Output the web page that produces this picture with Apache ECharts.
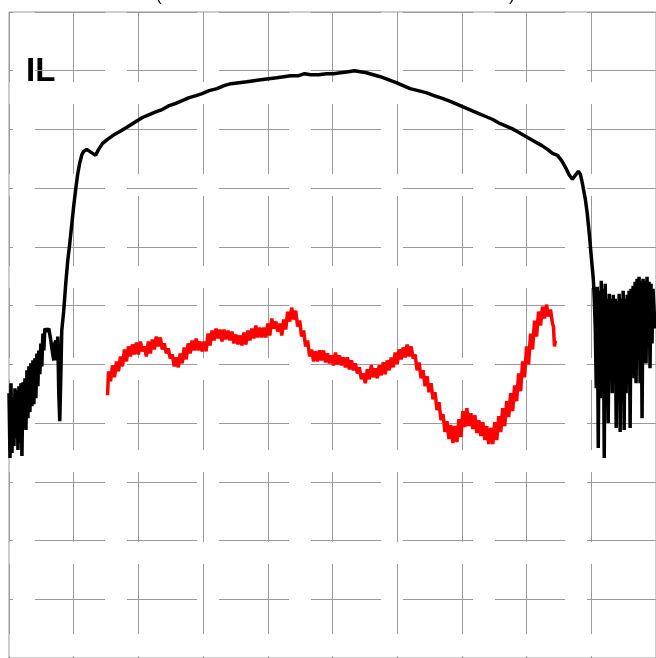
<!DOCTYPE html>
<html>
<head>
<meta charset="utf-8">
<script src="https://cdn.jsdelivr.net/npm/echarts@6/dist/echarts.min.js"></script>
<style>
html,body{margin:0;padding:0;background:#fff;}
#chart{width:656px;height:658px;}
</style>
</head>
<body>
<div id="chart"></div>
<script>
// x: frequency-like units (0 .. 6.5, 10 divisions), y: level in dB (0 at top, 5.9 dB / div)
const xTicks = { min: 0, max: 6.5, interval: 0.65 };
const yTicks = { min: -64.9, max: 0, interval: 5.9 };
const seriesNames = ['IL', 'Ref'];

// IL trace (black)
const ilTrace = [
[0.00,-38.3],[0.01,-44.8],[0.02,-37.3],[0.03,-44.3],[0.04,-38.8],[0.05,-43.6],[0.06,-37.8],[0.07,-42.8],
[0.08,-38.0],[0.09,-44.0],[0.10,-37.6],[0.11,-43.3],[0.12,-37.3],[0.13,-44.6],[0.14,-37.2],[0.15,-41.8],
[0.16,-36.8],[0.17,-42.0],[0.18,-36.0],[0.19,-40.8],[0.20,-35.6],[0.21,-40.2],[0.22,-35.3],[0.23,-39.6],
[0.24,-35.0],[0.25,-39.4],[0.26,-34.8],[0.27,-38.8],[0.28,-34.3],[0.29,-37.6],[0.30,-34.0],[0.31,-36.4],
[0.32,-33.3],[0.33,-35.6],[0.34,-32.3],[0.35,-34.0],[0.36,-31.8],[0.38,-32.1],[0.40,-31.8],[0.42,-33.0],
[0.44,-34.4],[0.45,-35.0],[0.46,-33.3],[0.47,-33.0],[0.48,-35.0],[0.49,-32.6],[0.50,-38.3],[0.51,-41.1],
[0.52,-36.8],[0.53,-32.0],[0.55,-30.0],[0.57,-27.3],[0.59,-25.0],[0.61,-23.3],[0.63,-21.4],[0.65,-19.5],
[0.67,-17.8],[0.69,-16.3],[0.71,-15.2],[0.73,-14.4],[0.75,-14.0],[0.78,-13.8],[0.81,-14.0],[0.84,-14.2],
[0.87,-14.4],[0.90,-13.8],[0.94,-13.2],[0.99,-12.8],[1.06,-12.3],[1.13,-11.9],[1.18,-11.6],[1.26,-11.1],
[1.34,-10.6],[1.41,-10.3],[1.48,-10.0],[1.54,-9.8],[1.61,-9.4],[1.67,-9.2],[1.74,-8.9],[1.81,-8.6],
[1.88,-8.4],[1.94,-8.2],[2.01,-7.9],[2.09,-7.7],[2.16,-7.4],[2.23,-7.2],[2.31,-7.1],[2.39,-7.0],
[2.46,-6.9],[2.53,-6.8],[2.61,-6.7],[2.69,-6.6],[2.76,-6.5],[2.83,-6.4],[2.91,-6.4],[2.97,-6.2],
[3.03,-6.3],[3.11,-6.3],[3.19,-6.2],[3.26,-6.2],[3.33,-6.1],[3.41,-6.0],[3.47,-5.9],[3.53,-6.0],
[3.59,-6.1],[3.66,-6.3],[3.73,-6.5],[3.81,-6.8],[3.89,-7.1],[3.96,-7.4],[4.03,-7.7],[4.11,-7.9],
[4.19,-8.1],[4.27,-8.4],[4.36,-8.7],[4.44,-9.0],[4.51,-9.3],[4.58,-9.6],[4.65,-9.9],[4.72,-10.2],
[4.79,-10.5],[4.86,-10.8],[4.93,-11.2],[5.00,-11.5],[5.07,-11.8],[5.14,-12.2],[5.21,-12.6],[5.28,-13.0],
[5.35,-13.4],[5.41,-13.8],[5.46,-14.2],[5.51,-14.4],[5.55,-14.9],[5.59,-15.6],[5.63,-16.4],[5.66,-16.8],
[5.69,-16.4],[5.72,-16.0],[5.74,-16.3],[5.76,-17.2],[5.79,-18.8],[5.81,-20.3],[5.83,-22.3],[5.85,-24.6],
[5.87,-26.8],[5.88,-28.8],
[5.89,-31.8],[5.90,-37.8],[5.91,-27.6],[5.92,-43.8],[5.93,-28.0],[5.94,-38.8],[5.95,-27.0],[5.96,-36.8],
[5.97,-27.8],[5.98,-44.8],[5.99,-27.3],[6.00,-36.0],[6.01,-28.8],[6.02,-41.3],[6.03,-28.3],[6.04,-35.8],
[6.05,-28.8],[6.06,-38.3],[6.07,-28.4],[6.08,-36.8],[6.09,-28.8],[6.10,-41.8],[6.11,-29.0],[6.12,-35.8],
[6.13,-28.3],[6.14,-42.2],[6.15,-28.8],[6.16,-37.3],[6.17,-28.0],[6.18,-42.0],[6.19,-28.8],[6.20,-38.3],
[6.21,-28.4],[6.22,-35.3],[6.23,-28.0],[6.24,-41.8],[6.25,-27.8],[6.26,-35.8],[6.27,-27.5],[6.28,-36.8],
[6.29,-27.1],[6.30,-37.3],[6.31,-26.8],[6.32,-34.8],[6.33,-26.6],[6.34,-37.3],[6.35,-27.0],[6.36,-40.8],
[6.37,-26.8],[6.38,-34.8],[6.39,-27.0],[6.40,-35.3],[6.41,-26.6],[6.42,-32.8],[6.43,-27.1],[6.44,-35.8],
[6.45,-27.3],[6.46,-33.3],[6.47,-27.8],[6.49,-31.8]
];

// second trace (red), noisy band read as alternating upper / lower readings
const refTrace = [
[0.99,-38.5],
[1.00,-36.1],[1.02,-37.1],[1.04,-35.5],[1.06,-36.7],[1.08,-35.1],[1.10,-36.1],[1.12,-34.6],[1.14,-35.6],
[1.16,-33.9],[1.18,-35.1],[1.20,-33.6],[1.22,-34.6],[1.24,-33.4],[1.26,-34.4],[1.28,-33.2],[1.30,-34.4],
[1.32,-33.1],[1.34,-34.1],[1.36,-33.6],[1.38,-34.6],[1.40,-33.1],[1.42,-34.3],[1.44,-32.9],[1.46,-33.9],
[1.48,-32.6],[1.50,-33.6],[1.52,-32.7],[1.54,-33.9],[1.56,-33.3],[1.58,-34.3],[1.60,-33.8],[1.62,-34.8],
[1.64,-34.4],[1.66,-35.6],[1.68,-34.7],[1.70,-35.7],[1.72,-34.3],[1.74,-35.3],[1.76,-33.7],[1.78,-34.9],
[1.80,-33.3],[1.82,-34.3],[1.84,-33.0],[1.86,-34.0],[1.88,-32.8],[1.90,-34.0],[1.92,-33.1],[1.94,-34.1],
[1.96,-33.1],[1.98,-34.1],[2.00,-32.3],[2.02,-33.5],[2.04,-32.0],[2.06,-33.0],[2.08,-31.8],[2.10,-32.8],
[2.12,-31.9],[2.14,-33.1],[2.16,-31.9],[2.18,-32.9],[2.20,-32.0],[2.22,-33.0],[2.24,-32.1],[2.26,-33.3],
[2.28,-32.4],[2.30,-33.4],[2.32,-32.5],[2.34,-33.5],[2.36,-32.2],[2.38,-33.4],[2.40,-32.0],[2.42,-33.0],
[2.44,-31.8],[2.46,-32.8],[2.48,-31.5],[2.50,-32.7],[2.52,-31.7],[2.54,-32.7],[2.56,-31.7],[2.58,-32.7],
[2.60,-31.3],[2.62,-32.5],[2.64,-30.8],[2.66,-31.8],[2.68,-31.1],[2.70,-32.1],[2.72,-31.3],[2.74,-32.5],
[2.76,-30.9],[2.78,-31.9],[2.80,-30.1],[2.82,-31.1],[2.84,-29.7],[2.86,-30.9],[2.88,-30.0],[2.90,-31.6],
[2.92,-31.0],[2.94,-32.6],[2.96,-32.0],[2.98,-33.6],[3.00,-33.0],[3.02,-34.6],[3.04,-33.9],[3.06,-35.1],
[3.08,-34.1],[3.10,-35.1],[3.12,-34.0],[3.14,-35.0],[3.16,-34.0],[3.18,-35.2],[3.20,-34.3],[3.22,-35.3],
[3.24,-34.5],[3.26,-35.5],[3.28,-34.2],[3.30,-35.4],[3.32,-34.5],[3.34,-35.5],[3.36,-34.7],[3.38,-35.7],
[3.40,-34.7],[3.42,-35.9],[3.44,-35.0],[3.46,-36.0],[3.48,-35.3],[3.50,-36.3],[3.52,-35.7],[3.54,-36.9],
[3.56,-36.3],[3.58,-37.3],[3.60,-35.9],[3.62,-36.9],[3.64,-35.5],[3.66,-36.7],[3.68,-35.8],[3.70,-36.8],
[3.72,-35.5],[3.74,-36.5],[3.76,-35.2],[3.78,-36.4],[3.80,-35.0],[3.82,-36.0],[3.84,-34.7],[3.86,-35.7],
[3.88,-34.2],[3.90,-35.4],[3.92,-33.9],[3.94,-34.9],[3.96,-33.7],[3.98,-34.7],[4.00,-33.4],[4.02,-34.6],
[4.04,-33.6],[4.06,-34.8],[4.08,-34.4],[4.10,-36.0],[4.12,-35.2],[4.14,-36.8],[4.16,-36.0],[4.18,-37.6],
[4.20,-36.6],[4.22,-38.2],[4.24,-37.3],[4.26,-38.9],[4.28,-38.2],[4.30,-40.0],[4.32,-39.2],[4.34,-41.0],
[4.36,-40.4],[4.38,-42.2],[4.40,-41.1],[4.42,-42.9],[4.44,-41.5],[4.46,-43.3],[4.48,-41.6],[4.50,-43.2],
[4.52,-40.9],[4.54,-42.7],[4.56,-40.1],[4.58,-41.7],[4.60,-39.8],[4.62,-41.6],[4.64,-40.3],[4.66,-41.9],
[4.68,-40.5],[4.70,-42.3],[4.72,-41.0],[4.74,-42.6],[4.76,-41.2],[4.78,-43.0],[4.80,-41.6],[4.82,-43.4],
[4.84,-41.8],[4.86,-43.4],[4.88,-41.2],[4.90,-43.0],[4.92,-40.6],[4.94,-42.2],[4.96,-39.8],[4.98,-41.6],
[5.00,-39.1],[5.02,-40.7],[5.04,-38.3],[5.06,-40.1],[5.08,-37.5],[5.10,-39.1],[5.12,-36.3],[5.14,-38.1],
[5.16,-35.1],[5.18,-36.7],[5.20,-33.6],[5.22,-35.4],[5.24,-32.3],[5.26,-33.9],[5.28,-31.0],[5.30,-32.6],
[5.32,-30.1],[5.34,-31.5],[5.36,-29.6],[5.38,-30.8],[5.40,-29.4],[5.42,-30.6],[5.44,-29.9],[5.46,-31.3],
[5.47,-31.6],[5.48,-33.6],[5.49,-33.0]
];

const chart = echarts.init(document.getElementById('chart'), null, { renderer: 'canvas' });

const gridColor = '#9a9a9a';

chart.setOption({
  animation: false,
  backgroundColor: '#ffffff',
  grid: {
    left: 9, top: 12, width: 649, height: 649,
    show: true, borderColor: gridColor, borderWidth: 1, backgroundColor: 'transparent',
    containLabel: false
  },
  xAxis: {
    type: 'value', min: xTicks.min, max: xTicks.max, interval: xTicks.interval,
    axisLine: { show: false }, axisTick: { show: false }, axisLabel: { show: false },
    splitLine: { show: true, lineStyle: { color: gridColor, width: 1, type: [70, 22], dashOffset: 0 } }
  },
  yAxis: {
    type: 'value', min: yTicks.min, max: yTicks.max, interval: yTicks.interval,
    axisLine: { show: false }, axisTick: { show: false }, axisLabel: { show: false },
    splitLine: { show: true, lineStyle: { color: gridColor, width: 1, type: [70, 22], dashOffset: 66 } }
  },
  graphic: [
    { type: 'text', left: 26, top: 55, silent: true,
      style: { text: 'IL', fill: '#000', font: 'bold 33px "Liberation Sans", Arial, sans-serif' } },
    { type: 'text', x: 156, y: 5, silent: true,
      style: { text: '(', fill: '#000', font: '17px "Liberation Sans", Arial, sans-serif', verticalAlign: 'bottom' } },
    { type: 'text', x: 509, y: 5, silent: true,
      style: { text: ')', fill: '#000', font: '17px "Liberation Sans", Arial, sans-serif', verticalAlign: 'bottom' } }
  ],
  series: [
    {
      name: seriesNames[1], type: 'line', data: refTrace, showSymbol: false, smooth: false,
      lineStyle: { color: '#ff0000', width: 3.5 }, z: 3
    },
    {
      name: seriesNames[0], type: 'line', data: ilTrace, showSymbol: false, smooth: false,
      lineStyle: { color: '#000000', width: 3.5 }, z: 4
    }
  ]
});
</script>
</body>
</html>
